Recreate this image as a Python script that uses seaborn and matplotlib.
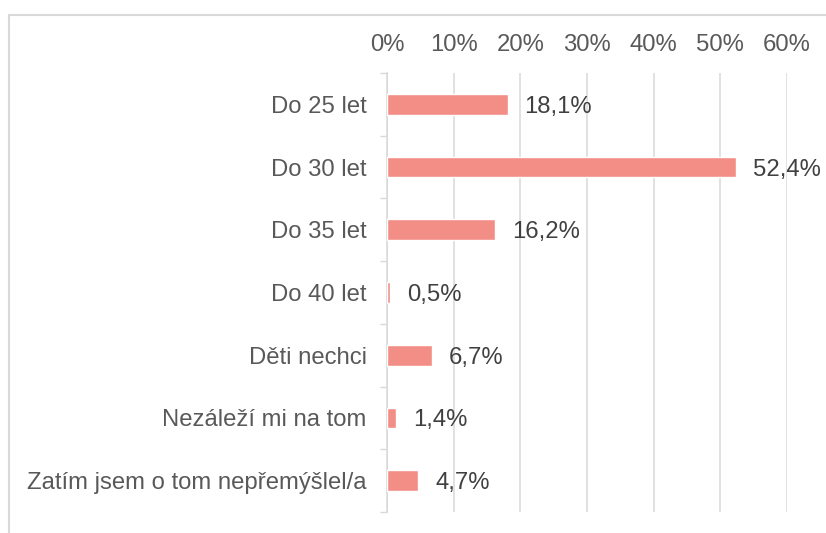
import matplotlib
matplotlib.use("Agg")
import matplotlib.pyplot as plt
import matplotlib.ticker as mticker
from matplotlib.lines import Line2D
import seaborn as sns
import pandas as pd

categories = ["Do 25 let", "Do 30 let", "Do 35 let", "Do 40 let", "Děti nechci",
              "Nezáleží mi na tom", "Zatím jsem o tom nepřemýšlel/a"]
values = [18.1, 52.4, 16.2, 0.5, 6.7, 1.4, 4.7]
value_labels = ["18,1%", "52,4%", "16,2%", "0,5%", "6,7%", "1,4%", "4,7%"]
x_ticks = [0, 10, 20, 30, 40, 50, 60]

sns.set_theme(style="white")
plt.rcParams['font.family'] = ['Liberation Sans', 'DejaVu Sans']

TEXT = "#595959"
VAL_TEXT = "#404040"
GRID = "#D9D9D9"
BAR = "#F28E86"
FS = 17.2

df = pd.DataFrame({"cat": categories, "val": values})

fig = plt.figure(figsize=(8.26, 5.33), dpi=100)
ax = fig.add_axes([387/826, 1-512/533, (787-387)/826, (512-73)/533])

sns.barplot(data=df, x="val", y="cat", orient="h", color=BAR, width=0.33,
            saturation=1, ax=ax, zorder=3)

ax.set_xlim(0, 60)
ax.set_ylim(len(categories) - 0.5, -0.5)
ax.set_xticks(x_ticks)
ax.xaxis.set_major_formatter(mticker.FuncFormatter(lambda v, p: f"{int(v)}%"))
ax.xaxis.tick_top()
ax.tick_params(axis="x", length=0, pad=12, labelsize=FS, labelcolor=TEXT)
ax.tick_params(axis="y", which="major", length=0, pad=14.5, labelsize=FS, labelcolor=TEXT)
ax.yaxis.set_minor_locator(mticker.FixedLocator([i - 0.5 for i in range(len(categories) + 1)]))
ax.tick_params(axis="y", which="minor", length=5, width=1, color=GRID, left=True)

ax.grid(axis="x", color=GRID, linewidth=1.1, zorder=0)
ax.grid(axis="y", visible=False)
for s in ["top", "right", "bottom"]:
    ax.spines[s].set_visible(False)
ax.spines["left"].set_color(GRID)
ax.spines["left"].set_linewidth(1.1)
ax.set_xlabel("")
ax.set_ylabel("")

texts = ax.bar_label(ax.containers[0], labels=value_labels, padding=12, fontsize=FS,
                     color=VAL_TEXT)
for t in texts:
    t.set_verticalalignment("center_baseline")

# chart frame (top and left edges visible)
fig.add_artist(Line2D([8.5/826, 1.0], [1-14.5/533, 1-14.5/533], color=GRID, lw=1.5,
                      transform=fig.transFigure))
fig.add_artist(Line2D([8.5/826, 8.5/826], [1-14.5/533, 0.0], color=GRID, lw=1.5,
                      transform=fig.transFigure))

fig.savefig("out.png", dpi=100)
